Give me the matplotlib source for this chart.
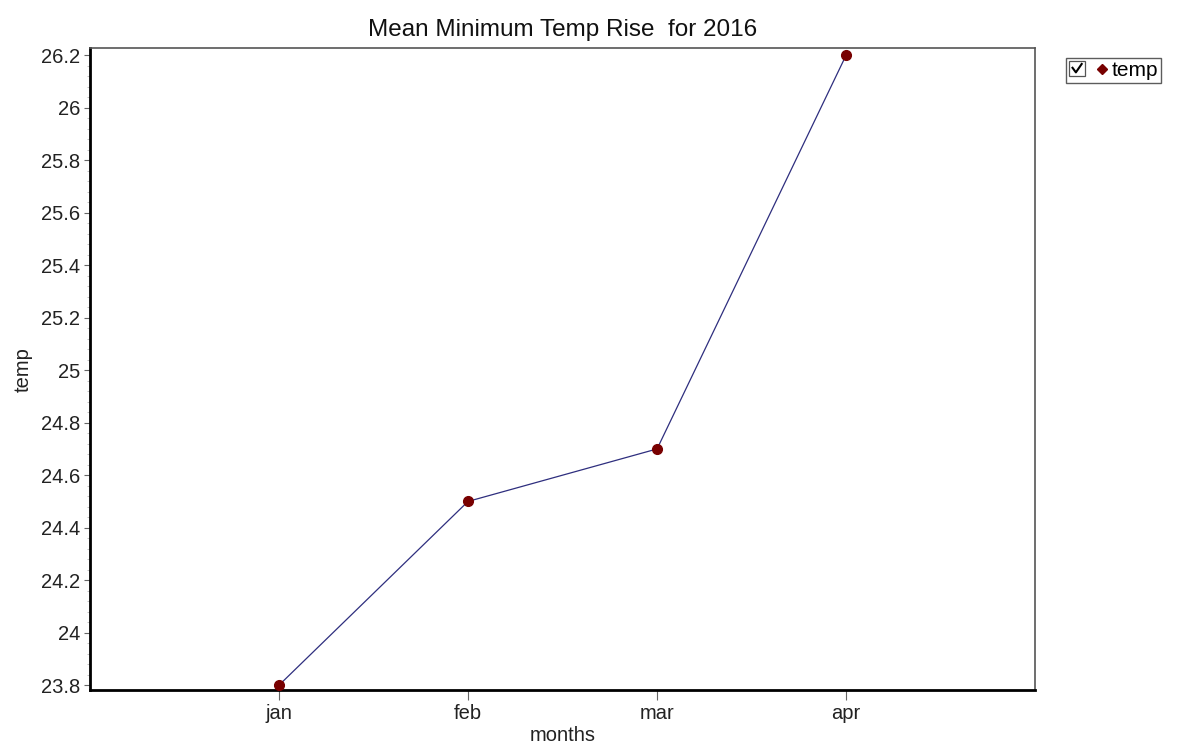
import numpy as np
import matplotlib.pyplot as plt
from matplotlib.ticker import MultipleLocator, AutoMinorLocator
from matplotlib.legend_handler import HandlerBase
from matplotlib.patches import Rectangle
from matplotlib.lines import Line2D

plt.rcParams['font.family'] = ['Liberation Sans', 'DejaVu Sans']

months = ['jan', 'feb', 'mar', 'apr']
temp = [23.8, 24.5, 24.7, 26.2]


class CheckMarkerHandler(HandlerBase):
    '''
    Legend entry drawn as a ticked checkbox followed by the series marker
    '''
    def create_artists(self, legend, orig_handle, xdescent, ydescent,
                       width, height, fontsize, trans):
        s = height * 1.0
        y0 = (height - s) / 2 - ydescent
        box = Rectangle((-xdescent, y0), s, s, facecolor='white',
                        edgecolor='#555555', linewidth=0.9, transform=trans)
        check = Line2D([-xdescent + 0.2 * s, -xdescent + 0.42 * s, -xdescent + 0.8 * s],
                       [y0 + 0.55 * s, y0 + 0.25 * s, y0 + 0.8 * s],
                       color='black', linewidth=1.5, transform=trans)
        mark = Line2D([-xdescent + width - 0.3 * s], [height / 2 - ydescent],
                      marker='D', markersize=5.5, color=orig_handle.get_markerfacecolor(),
                      linestyle='none', transform=trans)
        return [box, check, mark]


fig = plt.figure(figsize=(11.79, 7.51), dpi=100)
ax = fig.add_axes([0.0763, 0.081, 0.8017, 0.855])

x = np.arange(len(months))
line, = ax.plot(x, temp, color='#2e2e7e', linewidth=0.9, marker='o', markersize=7,
                markerfacecolor='#780000', markeredgecolor='#780000', label='temp', zorder=3)

ax.set_xlim(-1, 4)
ax.set_ylim(23.781, 26.227)
ax.set_xticks(x)
ax.set_xticklabels(months)
ax.yaxis.set_major_locator(MultipleLocator(0.2))
ax.yaxis.set_minor_locator(AutoMinorLocator(5))
ax.yaxis.set_major_formatter(plt.FuncFormatter(lambda v, p: '{:g}'.format(round(v, 1))))

ax.tick_params(axis='both', labelsize=14.5, colors='#222222')
ax.tick_params(axis='x', length=7, width=0.8, color='#666666', pad=3)
ax.tick_params(axis='y', which='major', length=4, width=0.8, color='#666666', pad=3)
ax.tick_params(axis='y', which='minor', length=2.5, width=0.5, color='#aaaaaa')

ax.spines['left'].set_linewidth(2)
ax.spines['bottom'].set_linewidth(2)
ax.spines['left'].set_color('black')
ax.spines['bottom'].set_color('black')
ax.spines['top'].set_color('#555555')
ax.spines['right'].set_color('#555555')
ax.spines['top'].set_linewidth(1.2)
ax.spines['right'].set_linewidth(1.2)

ax.set_xlabel('months', fontsize=14.5, labelpad=2, color='#222222')
ax.set_ylabel('temp', fontsize=14.5, labelpad=6, color='#222222')
ax.set_title('Mean Minimum Temp Rise  for 2016', fontsize=17.5, pad=9, color='#111111')

leg = ax.legend(handles=[line], labels=['temp'], handler_map={line: CheckMarkerHandler()},
                loc='upper left', bbox_to_anchor=(1.033, 0.985), fontsize=15,
                frameon=True, fancybox=False, edgecolor='#333333',
                handlelength=1.8, handleheight=0.75, handletextpad=0.2,
                borderpad=0.15, borderaxespad=0)
leg.get_frame().set_linewidth(1.0)

fig.savefig('out.png', dpi=100)
